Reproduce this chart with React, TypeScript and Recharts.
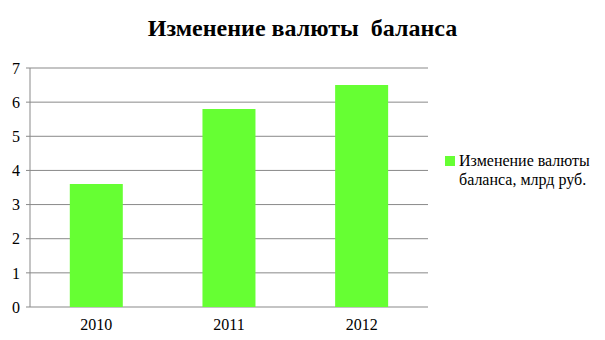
import { BarChart, Bar, XAxis, YAxis, CartesianGrid } from 'recharts';

const years = ['2010', '2011', '2012'];
const values = [3.6, 5.8, 6.5];
const yTicks = [0, 1, 2, 3, 4, 5, 6, 7];
const boundaryTicks = [0, 1, 2, 3];

const chartTitle = 'Изменение валюты  баланса';
const legendLines = ['Изменение валюты', 'баланса, млрд руб.'];

const data = years.map((year, i) => ({ year, value: values[i] }));

const gray = '#898989';
const green = '#66ff33';
const font = '"Liberation Serif", "DejaVu Serif", serif';

function LegendBox() {
  return (
    <div
      style={{
        position: 'absolute',
        left: 445,
        top: 151,
        display: 'flex',
        alignItems: 'flex-start',
        fontFamily: font,
        fontSize: 16,
        color: '#000',
        lineHeight: '19px',
      }}
    >
      <span style={{ width: 10, height: 10, background: green, marginTop: 5, marginRight: 4, flexShrink: 0 }} />
      <span>
        {legendLines[0]}
        <br />
        {legendLines[1]}
      </span>
    </div>
  );
}

export default function App() {
  return (
    <div style={{ position: 'relative', width: 605, height: 340, margin: -8, background: '#fff', fontFamily: font }}>
      <div
        style={{
          position: 'absolute',
          top: 15,
          left: 0,
          width: 605,
          textAlign: 'center',
          fontWeight: 'bold',
          fontSize: 24,
          whiteSpace: 'pre',
          color: '#000',
        }}
      >
        {chartTitle}
      </div>
      <BarChart
        width={605}
        height={340}
        data={data}
        margin={{ top: 68, right: 177, left: 0, bottom: 0 }}
        barCategoryGap="30%"
      >
        <CartesianGrid vertical={false} stroke={gray} strokeWidth={1} />
        <XAxis
          xAxisId="edges"
          type="number"
          domain={[0, 3]}
          ticks={boundaryTicks}
          height={0}
          tickSize={5}
          tickFormatter={() => ''}
          tickLine={{ stroke: gray }}
          axisLine={{ stroke: gray }}
        />
        <XAxis
          dataKey="year"
          height={33}
          tickLine={false}
          axisLine={false}
          tickSize={0}
          tickMargin={12}
          tick={{ fill: '#000', fontSize: 16, fontFamily: font }}
        />
        <YAxis
          width={30}
          domain={[0, 7]}
          ticks={yTicks}
          interval={0}
          tickSize={4}
          tickMargin={6}
          tickLine={{ stroke: gray }}
          axisLine={{ stroke: gray }}
          tick={{ fill: '#000', fontSize: 16, fontFamily: font }}
        />
        <Bar dataKey="value" fill={green} isAnimationActive={false} />
      </BarChart>
      <LegendBox />
    </div>
  );
}
